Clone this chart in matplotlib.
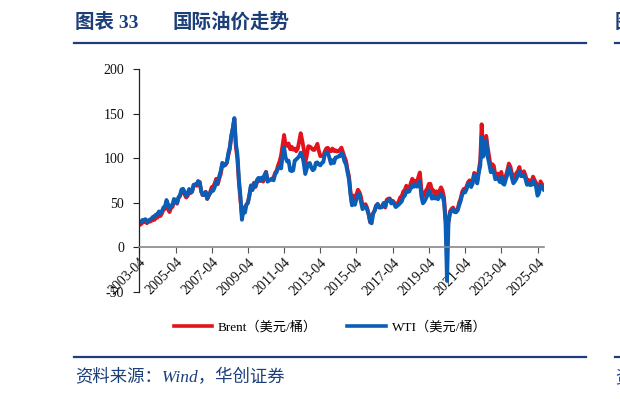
import matplotlib
matplotlib.use("Agg")
import matplotlib.pyplot as plt
import pandas as pd
from matplotlib.lines import Line2D

plt.rcParams['font.family'] = ['Liberation Serif', 'Noto Sans CJK SC']
plt.rcParams['axes.unicode_minus'] = False

start_month = "2003-04"
brent = [
    25.0, 25.8, 27.6, 28.4, 29.8, 27.1, 29.6, 28.8, 29.8,
    31.3, 30.9, 33.8, 33.4, 37.9, 35.2, 38.2, 42.7, 43.2, 49.8, 43.1, 39.6,
    44.5, 45.5, 53.1, 51.9, 49.0, 55.6, 57.5, 63.9, 63.8, 59.5, 56.0, 57.6,
    63.9, 61.0, 62.4, 70.2, 70.0, 69.1, 73.7, 73.2, 62.5, 58.6, 59.3, 62.3,
    54.3, 57.8, 62.1, 67.5, 67.8, 71.9, 76.9, 70.8, 77.2, 82.4, 92.5, 91.5,
    92.2, 94.9, 103.3, 110.4, 124.6, 133.5, 144.0, 113.0, 99.0, 72.8, 53.2, 36.0,
    44.9, 43.4, 47.7, 50.6, 57.9, 68.6, 64.9, 72.5, 67.7, 73.2, 77.0, 74.7,
    76.2, 73.8, 78.8, 84.8, 75.9, 75.0, 75.6, 77.1, 78.2, 83.5, 86.1, 92.0,
    96.5, 103.7, 114.6, 126.0, 114.5, 113.9, 116.5, 110.1, 112.8, 109.6, 110.8, 107.9,
    110.7, 119.3, 128.0, 119.8, 110.3, 95.2, 102.6, 113.4, 113.0, 111.5, 109.5, 109.2,
    112.3, 116.1, 108.5, 102.3, 102.6, 102.9, 107.7, 111.0, 111.6, 109.1, 107.8, 110.8,
    108.1, 108.9, 107.5, 107.8, 109.5, 111.8, 106.8, 101.6, 97.1, 87.4, 79.4, 62.3,
    47.8, 58.1, 55.9, 59.5, 64.6, 61.7, 56.5, 46.5, 47.6, 48.4, 44.3, 38.0,
    28.0, 32.2, 38.2, 41.6, 46.7, 48.3, 44.9, 45.8, 46.6, 49.5, 44.7, 53.3,
    54.6, 54.9, 51.6, 52.3, 50.3, 46.4, 48.5, 51.7, 56.2, 57.5, 62.7, 64.4,
    69.1, 65.2, 66.0, 72.1, 76.9, 74.4, 74.3, 72.5, 78.9, 84.0, 64.7, 57.4,
    59.4, 63.9, 66.1, 71.2, 71.3, 64.2, 63.9, 59.0, 62.8, 59.7, 63.2, 67.3,
    63.7, 55.7, 32.0, 14.0, 29.4, 40.3, 43.2, 44.7, 40.9, 40.2, 42.7, 49.9,
    54.8, 62.3, 65.4, 64.8, 68.5, 73.2, 75.2, 70.8, 74.5, 83.5, 81.1, 74.2,
    86.5, 97.1, 138.0, 104.6, 113.3, 125.0, 111.9, 100.5, 89.8, 93.3, 91.4, 80.9,
    82.5, 82.6, 78.4, 84.6, 75.5, 74.8, 80.1, 86.2, 94.0, 90.6, 82.9, 77.6,
    80.1, 83.5, 85.4, 90.1, 81.8, 82.6, 85.3, 80.9, 74.3, 75.6, 74.4, 73.8,
    79.3, 75.4, 72.5, 66.0, 64.2, 74.0, 71.0, 67.9,
]
wti = [
    28.2, 28.1, 30.7, 30.8, 31.6, 28.3, 30.3, 31.1, 32.1,
    34.3, 34.7, 36.7, 36.7, 40.3, 38.0, 40.7, 44.9, 45.9, 53.1, 48.5, 43.3,
    46.8, 48.0, 54.3, 53.0, 49.8, 56.3, 58.7, 65.0, 65.6, 62.4, 58.3, 59.4,
    65.5, 61.6, 62.7, 69.4, 70.8, 70.9, 74.4, 73.0, 63.8, 58.9, 59.1, 62.0,
    54.5, 59.3, 60.4, 64.0, 63.5, 67.5, 74.1, 72.4, 79.9, 85.8, 94.8, 91.7,
    93.0, 95.4, 105.5, 112.6, 125.4, 133.9, 145.0, 116.7, 104.1, 76.6, 57.3, 31.0,
    41.7, 39.1, 47.9, 49.7, 59.0, 69.6, 64.2, 71.1, 69.4, 75.7, 78.0, 74.5,
    78.3, 76.4, 81.2, 84.3, 73.7, 75.3, 76.3, 76.6, 75.2, 81.9, 84.3, 89.2,
    89.2, 88.6, 102.9, 112.0, 100.9, 96.3, 97.3, 86.3, 85.5, 86.3, 97.2, 98.6,
    100.3, 102.2, 106.2, 103.3, 94.7, 82.3, 87.9, 94.1, 94.5, 89.5, 86.5, 87.9,
    94.8, 95.3, 92.9, 92.0, 94.5, 95.8, 104.6, 106.6, 106.3, 100.5, 93.9, 97.6,
    94.6, 100.8, 100.8, 102.1, 102.2, 105.8, 103.6, 96.5, 93.2, 84.4, 75.8, 59.3,
    47.2, 50.6, 47.8, 54.5, 59.3, 59.8, 50.9, 42.9, 45.5, 46.2, 42.4, 37.2,
    29.0, 27.0, 37.6, 40.8, 46.7, 48.8, 44.7, 44.7, 45.2, 49.8, 45.7, 52.0,
    52.5, 53.5, 49.3, 51.1, 48.5, 45.2, 46.6, 48.0, 49.8, 51.6, 56.6, 57.9,
    63.7, 62.2, 62.7, 66.3, 70.0, 67.9, 71.0, 68.1, 70.2, 74.0, 57.0, 49.5,
    51.4, 55.0, 58.2, 63.9, 60.8, 54.7, 57.4, 54.8, 57.0, 54.0, 57.0, 59.9,
    57.5, 50.5, 29.2, -37.6, 28.6, 38.3, 40.7, 42.3, 39.6, 39.4, 41.4, 47.0,
    52.0, 59.0, 62.3, 61.7, 65.2, 71.4, 72.5, 67.7, 71.6, 81.5, 79.2, 71.7,
    83.2, 91.6, 123.7, 101.8, 109.6, 120.0, 101.6, 93.7, 84.3, 87.3, 84.4, 76.4,
    78.1, 76.8, 73.3, 79.4, 71.6, 70.3, 76.1, 81.4, 89.4, 85.6, 77.7, 71.9,
    74.2, 77.0, 81.3, 85.4, 80.0, 79.8, 81.8, 76.7, 70.2, 71.6, 69.9, 70.1,
    75.1, 71.5, 68.2, 58.0, 61.0, 70.0, 67.3, 64.9,
]
xtick_labels = ["2003-04", "2005-04", "2007-04", "2009-04", "2011-04", "2013-04",
                "2015-04", "2017-04", "2019-04", "2021-04", "2023-04", "2025-04"]
yticks = [-50, 0, 50, 100, 150, 200]
series_names = ["Brent（美元/桶）", "WTI（美元/桶）"]

dates = pd.date_range(start=start_month + "-01", periods=len(brent), freq="MS")

fig = plt.figure(figsize=(6.2, 3.99), dpi=100)
ax = fig.add_axes([139.3 / 620, 1 - 292 / 399, (544 - 139.3) / 620, (292 - 69) / 399])

red = "#E3121B"
blue = "#0B5EB5"
ax.plot(dates, brent, color=red, lw=2.8, solid_joinstyle="round")
ax.plot(dates, wti, color=blue, lw=2.8, solid_joinstyle="round")

ax.set_ylim(-50, 200)
ax.set_yticks(yticks)
ax.set_xlim(pd.Timestamp("2003-04-01"), pd.Timestamp("2025-08-10"))
tick_dates = [pd.Timestamp(s + "-01") for s in xtick_labels]
ax.set_xticks(tick_dates)
ax.set_xticklabels(xtick_labels)

ax.spines["top"].set_visible(False)
ax.spines["right"].set_visible(False)
ax.spines["bottom"].set_position(("data", 0))
ax.spines["bottom"].set_color("#888888")
ax.spines["bottom"].set_linewidth(1.2)
ax.spines["left"].set_color("#222222")
ax.spines["left"].set_linewidth(0.9)
ax.tick_params(axis="y", direction="out", length=4, width=0.8, pad=7, colors="#222222",
               labelcolor="#111111", labelsize=10)
ax.tick_params(axis="x", direction="out", length=4, width=0.8, pad=2, colors="#555555",
               labelcolor="#111111", labelsize=10)
ax.set_facecolor("none")
for lab in ax.get_xticklabels():
    lab.set_rotation(45)
    lab.set_ha("right")
    lab.set_va("top")
    lab.set_rotation_mode("anchor")

# legend
handles = [Line2D([], [], color=red, lw=2.6), Line2D([], [], color=blue, lw=2.6)]
fig.legend(handles, series_names, loc="center", bbox_to_anchor=(330 / 620, 1 - 327 / 399),
           ncol=2, frameon=False, fontsize=9.5, handlelength=2.9, handletextpad=0.45,
           columnspacing=2.3)

navy = "#1C3F7A"
# title
fig.text(75 / 620, 1 - 22 / 399, "图表 33", fontsize=14, fontweight="bold",
         color=navy, ha="left", va="center")
fig.text(172 / 620, 1 - 22 / 399, "国际油价走势", fontsize=14, fontweight="bold",
         color=navy, ha="left", va="center")
fig.text(615 / 620, 1 - 22 / 399, "图表 34", fontsize=14, fontweight="bold",
         color=navy, ha="left", va="center")
# rules
fig.add_artist(Line2D([74 / 620, 586 / 620], [1 - 43 / 399, 1 - 43 / 399], color=navy, lw=1.6))
fig.add_artist(Line2D([615 / 620, 1.0], [1 - 43 / 399, 1 - 43 / 399], color=navy, lw=1.6))
fig.add_artist(Line2D([74 / 620, 586 / 620], [1 - 357 / 399, 1 - 357 / 399], color=navy, lw=1.6))
fig.add_artist(Line2D([615 / 620, 1.0], [1 - 357 / 399, 1 - 357 / 399], color=navy, lw=1.6))
# source
fig.text(75 / 620, 1 - 378 / 399, "资料来源：Wind，华创证券", fontsize=12.5, style="italic",
         color=navy, ha="left", va="center")
fig.text(615 / 620, 1 - 378 / 399, "资料来源", fontsize=12.5, style="italic",
         color=navy, ha="left", va="center")

fig.savefig("out.png", dpi=100)
